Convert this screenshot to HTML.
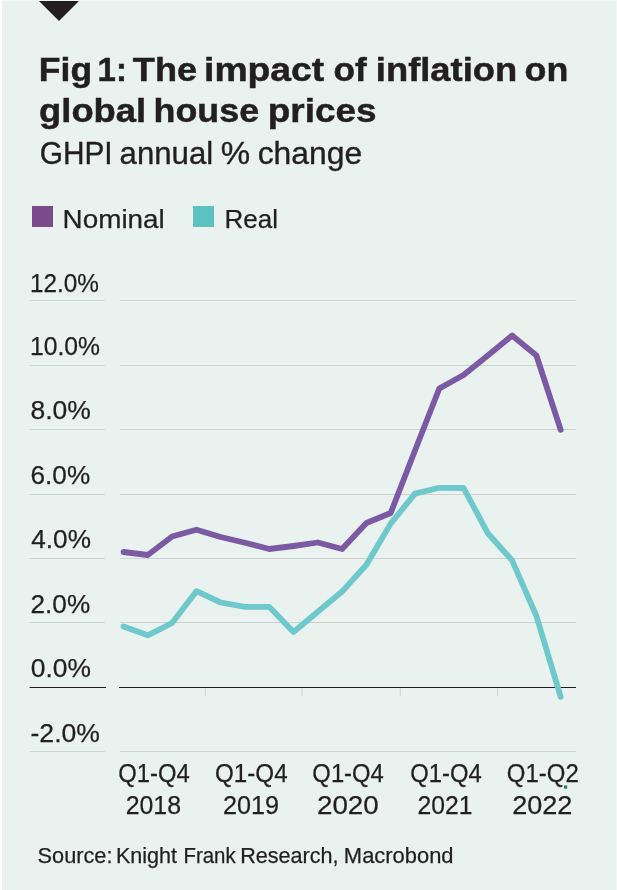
<!DOCTYPE html>
<html><head><meta charset="utf-8"><style>
html,body{margin:0;padding:0;background:#e9f2ef;}
body{width:617px;height:890px;overflow:hidden;position:relative;}
svg{position:absolute;left:0;top:0;display:block;will-change:transform;}
text{font-family:"Liberation Sans",sans-serif;fill:#231f20;stroke:#231f20;stroke-width:0.25px;}
text[font-weight=bold]{stroke:#231f20;stroke-width:0.5px;}
text[font-size="30.5"]{stroke:#231f20;stroke-width:0.35px;}
</style></head><body>
<svg width="617" height="890" viewBox="0 0 617 890">
<rect x="0" y="0" width="2" height="890" fill="#ffffff"/>
<rect x="2" y="0" width="615" height="1" fill="#f0f7f4"/>
<rect x="616" y="0" width="1" height="890" fill="#f2f7f5"/>
<polygon points="39,1 79,1 59,21" fill="#231f20"/>
<text x="38.85" y="81" font-size="34" font-weight="bold" textLength="53.29" lengthAdjust="spacingAndGlyphs">Fig</text>
<text x="97.62" y="81" font-size="34" font-weight="bold" textLength="29.32" lengthAdjust="spacingAndGlyphs">1:</text>
<text x="132.87" y="81" font-size="34" font-weight="bold" textLength="64.21" lengthAdjust="spacingAndGlyphs">The</text>
<text x="204.06" y="81" font-size="34" font-weight="bold" textLength="120.22" lengthAdjust="spacingAndGlyphs">impact</text>
<text x="333.51" y="81" font-size="34" font-weight="bold" textLength="33.23" lengthAdjust="spacingAndGlyphs">of</text>
<text x="375.83" y="81" font-size="34" font-weight="bold" textLength="141.33" lengthAdjust="spacingAndGlyphs">inflation</text>
<text x="524.58" y="81" font-size="34" font-weight="bold" textLength="43.77" lengthAdjust="spacingAndGlyphs">on</text>
<text x="39.10" y="121.6" font-size="34" font-weight="bold" textLength="107.03" lengthAdjust="spacingAndGlyphs">global</text>
<text x="153.57" y="121.6" font-size="34" font-weight="bold" textLength="105.52" lengthAdjust="spacingAndGlyphs">house</text>
<text x="267.76" y="121.6" font-size="34" font-weight="bold" textLength="108.70" lengthAdjust="spacingAndGlyphs">prices</text>
<text x="39.73" y="164" font-size="30.5" textLength="72.93" lengthAdjust="spacingAndGlyphs">GHPI</text>
<text x="119.62" y="164" font-size="30.5" textLength="93.62" lengthAdjust="spacingAndGlyphs">annual</text>
<text x="220.82" y="164" font-size="30.5" textLength="29.40" lengthAdjust="spacingAndGlyphs">%</text>
<text x="257.69" y="164" font-size="30.5" textLength="104.49" lengthAdjust="spacingAndGlyphs">change</text>
<rect x="32" y="206" width="21" height="21" fill="#7a4a8a"/>
<text x="62.64" y="228" font-size="26.5" textLength="102.15" lengthAdjust="spacingAndGlyphs">Nominal</text>
<rect x="193" y="206" width="21" height="21" fill="#5cc2c0"/>
<text x="224.49" y="228" font-size="26.5" textLength="53.54" lengthAdjust="spacingAndGlyphs">Real</text>
<rect x="29.6" y="300" width="75.2" height="1" fill="#cdd4d1"/>
<rect x="120" y="300" width="456" height="1" fill="#cdd4d1"/>
<text x="29.94" y="291.7" font-size="26.2" textLength="69.00" lengthAdjust="spacingAndGlyphs">12.0%</text>
<rect x="29.6" y="365" width="75.2" height="1" fill="#cdd4d1"/>
<rect x="120" y="365" width="456" height="1" fill="#cdd4d1"/>
<text x="29.91" y="355.1" font-size="26.2" textLength="70.04" lengthAdjust="spacingAndGlyphs">10.0%</text>
<rect x="29.6" y="429" width="75.2" height="1" fill="#cdd4d1"/>
<rect x="120" y="429" width="456" height="1" fill="#cdd4d1"/>
<text x="30.53" y="419.3" font-size="26.2" textLength="60.43" lengthAdjust="spacingAndGlyphs">8.0%</text>
<rect x="29.6" y="494" width="75.2" height="1" fill="#cdd4d1"/>
<rect x="120" y="494" width="456" height="1" fill="#cdd4d1"/>
<text x="30.55" y="484.3" font-size="26.2" textLength="59.60" lengthAdjust="spacingAndGlyphs">6.0%</text>
<rect x="29.6" y="558" width="75.2" height="1" fill="#cdd4d1"/>
<rect x="120" y="558" width="456" height="1" fill="#cdd4d1"/>
<text x="31.30" y="548.3" font-size="26.2" textLength="59.65" lengthAdjust="spacingAndGlyphs">4.0%</text>
<rect x="29.6" y="622" width="75.2" height="1" fill="#cdd4d1"/>
<rect x="120" y="622" width="456" height="1" fill="#cdd4d1"/>
<text x="30.55" y="613" font-size="26.2" textLength="59.60" lengthAdjust="spacingAndGlyphs">2.0%</text>
<rect x="29.6" y="687" width="76.4" height="1" fill="#231f20"/>
<rect x="119" y="687" width="457" height="1" fill="#231f20"/>
<text x="30.79" y="677" font-size="26.2" textLength="60.17" lengthAdjust="spacingAndGlyphs">0.0%</text>
<rect x="29.6" y="751" width="75.2" height="1" fill="#cdd4d1"/>
<rect x="120" y="751" width="456" height="1" fill="#cdd4d1"/>
<text x="30.53" y="742.3" font-size="26.2" textLength="69.40" lengthAdjust="spacingAndGlyphs">-2.0%</text>
<rect x="204.9" y="688" width="1" height="8" fill="#cdd4d1"/>
<rect x="301.5" y="688" width="1" height="8" fill="#cdd4d1"/>
<rect x="399.8" y="688" width="1" height="8" fill="#cdd4d1"/>
<rect x="497.0" y="688" width="1" height="8" fill="#cdd4d1"/>
<polyline points="123.5,552.0 147.8,555.0 172.1,536.5 196.4,529.7 220.7,537.0 244.9,542.7 269.2,549.0 293.5,546.0 317.8,542.5 342.1,549.0 366.4,523.0 390.7,513.0 415.0,450.5 439.3,388.5 463.6,375.0 487.8,355.4 512.1,335.6 536.4,355.5 560.7,429.8" fill="none" stroke="#7b5aa3" stroke-width="5.8" stroke-linejoin="round" stroke-linecap="round"/>
<polyline points="123.5,626.6 147.8,635.3 172.1,623.0 196.4,591.2 220.7,602.5 244.9,606.8 269.2,606.8 293.5,632.0 317.8,611.8 342.1,591.6 366.4,564.8 390.7,523.6 415.0,493.6 439.3,487.8 463.6,488.0 487.8,533.2 512.1,560.4 536.4,616.0 560.7,696.8" fill="none" stroke="#6ec8cc" stroke-width="5.8" stroke-linejoin="round" stroke-linecap="round"/>
<text x="118.15" y="782" font-size="26" textLength="71.56" lengthAdjust="spacingAndGlyphs">Q1-Q4</text>
<text x="125.70" y="813.5" font-size="26" textLength="55.34" lengthAdjust="spacingAndGlyphs">2018</text>
<text x="215.04" y="782" font-size="26" textLength="72.59" lengthAdjust="spacingAndGlyphs">Q1-Q4</text>
<text x="223.09" y="813.5" font-size="26" textLength="56.01" lengthAdjust="spacingAndGlyphs">2019</text>
<text x="312.36" y="782" font-size="26" textLength="71.46" lengthAdjust="spacingAndGlyphs">Q1-Q4</text>
<text x="316.96" y="813.5" font-size="26" textLength="61.80" lengthAdjust="spacingAndGlyphs">2020</text>
<text x="410.15" y="782" font-size="26" textLength="71.56" lengthAdjust="spacingAndGlyphs">Q1-Q4</text>
<text x="417.61" y="813.5" font-size="26" textLength="54.96" lengthAdjust="spacingAndGlyphs">2021</text>
<text x="506.85" y="782" font-size="26" textLength="71.93" lengthAdjust="spacingAndGlyphs">Q1-Q2</text>
<text x="512.20" y="813.5" font-size="26" textLength="60.20" lengthAdjust="spacingAndGlyphs">2022</text>
<rect x="564" y="785.5" width="3.2" height="3.2" fill="#237d70"/>
<text x="37.57" y="862.6" font-size="21.2" textLength="74.91" lengthAdjust="spacingAndGlyphs">Source:</text>
<text x="115.92" y="862.6" font-size="21.2" textLength="61.16" lengthAdjust="spacingAndGlyphs">Knight</text>
<text x="183.41" y="862.6" font-size="21.2" textLength="52.25" lengthAdjust="spacingAndGlyphs">Frank</text>
<text x="240.22" y="862.6" font-size="21.2" textLength="98.34" lengthAdjust="spacingAndGlyphs">Research,</text>
<text x="343.89" y="862.6" font-size="21.2" textLength="109.66" lengthAdjust="spacingAndGlyphs">Macrobond</text>
</svg>
</body></html>
